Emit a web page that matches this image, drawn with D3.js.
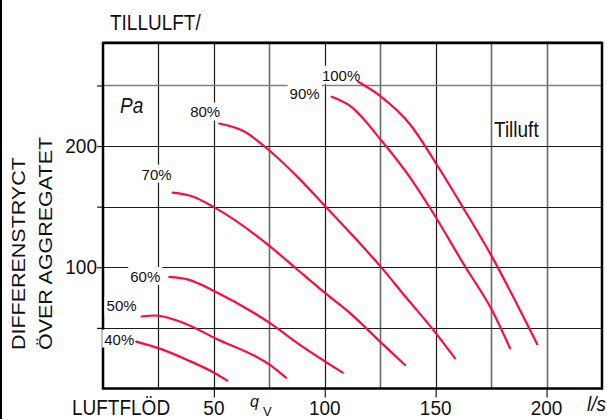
<!DOCTYPE html>
<html>
<head>
<meta charset="utf-8">
<script src="https://cdn.jsdelivr.net/npm/d3@7"></script>
<style>
  html, body { margin: 0; padding: 0; background: #fff; }
  svg { display: block; }
  text { font-family: "Liberation Sans", Arial, sans-serif; fill: #111; }
</style>
</head>
<body>
<svg id="chart"></svg>
<script>
// fan curves, flow in l/s vs pressure difference in Pa
const curveLabels = ['40%', '50%', '60%', '70%', '80%', '90%', '100%'];

const flow40 = [15, 25, 38, 50.5, 56];
const dp40 = [38.7, 33.3, 23.6, 12.6, 6.5];
const flow50 = [17.4, 23.4, 34.7, 50.5, 75.3, 82.5];
const dp50 = [59.4, 60.2, 55.3, 41.5, 19.4, 8.9];
const flow60 = [29.9, 38.5, 50.5, 75.3, 88.8, 108.1];
const dp60 = [92, 89.8, 80.1, 53.9, 36, 13.1];
const flow70 = [31.4, 40.7, 50, 75.3, 87.3, 100.1, 111.4, 124.9, 136.2];
const dp70 = [161.5, 158.2, 149.6, 117.3, 98.6, 78.8, 62.2, 38.7, 19.4];
const flow80 = [52.4, 63.3, 75.3, 88.8, 100.4, 112.9, 125.3, 136.9, 148.9, 158.7];
const dp80 = [218.6, 212.4, 195.9, 172.5, 149.9, 125.6, 100.3, 74.6, 48.4, 25];
const flow90 = [103.1, 111.4, 125.7, 136.9, 147.4, 163.2, 175.3, 183.5];
const dp90 = [240.6, 233.1, 204.2, 178, 149.1, 100.8, 64.9, 33.3];
const flow100 = [115.1, 124.9, 138.4, 150.4, 162.4, 175.3, 186, 195.8];
const dp100 = [253, 241.4, 218, 185, 149.1, 109, 72, 36.6];

const xGridValues = [25, 50, 75, 100, 125, 150, 175, 200];
const xTickLabels = [50, 100, 150, 200];
const yGridValues = [50, 100, 150, 200, 250];
const yTickLabels = [100, 200];

const width = 607;
const height = 419;

const flows = [flow40, flow50, flow60, flow70, flow80, flow90, flow100];
const dps = [dp40, dp50, dp60, dp70, dp80, dp90, dp100];

// label placement relative to first point of each curve (pixels)
const labelShift = [[-2, 3], [-5, -5], [-9, 5], [-1, -13], [1, -6], [-12, 2], [2, -1]];

const svg = d3.select('#chart')
  .attr('width', width)
  .attr('height', height);

svg.append('rect')
  .attr('width', width)
  .attr('height', height)
  .attr('fill', '#fff');

const x = d3.scaleLinear().domain([0, 225]).range([103, 602]);
const y = d3.scaleLinear().domain([0, 285]).range([388.5, 43]);

const x0 = x(0), x1 = x(225), yTop = y(285), yBot = y(0);

// grid
const darkX = new Set([25, 50, 100, 150]);
svg.append('g').selectAll('line')
  .data(xGridValues)
  .join('line')
  .attr('x1', d => Math.round(x(d)) + 0.5)
  .attr('x2', d => Math.round(x(d)) + 0.5)
  .attr('y1', yTop)
  .attr('y2', yBot)
  .attr('stroke', d => darkX.has(d) ? '#1a1a1a' : '#6a6a6a')
  .attr('stroke-width', d => darkX.has(d) ? 1.2 : 1.6);

const darkY = new Set([50, 100, 150, 200]);
svg.append('g').selectAll('line')
  .data(yGridValues)
  .join('line')
  .attr('x1', x0)
  .attr('x2', x1)
  .attr('y1', d => Math.round(y(d)) + 0.5)
  .attr('y2', d => Math.round(y(d)) + 0.5)
  .attr('stroke', d => darkY.has(d) ? '#1a1a1a' : '#808080')
  .attr('stroke-width', d => darkY.has(d) ? 1.2 : 1.6);

// ticks
const yAxis = svg.append('g')
  .attr('transform', `translate(${x0},0)`)
  .call(d3.axisLeft(y).tickValues(yGridValues).tickSize(6).tickFormat(''));
yAxis.select('.domain').remove();
yAxis.selectAll('line').attr('stroke', '#1a1a1a').attr('stroke-width', 1.2);

const xAxis = svg.append('g')
  .attr('transform', `translate(0,${yBot})`)
  .call(d3.axisBottom(x).tickValues(xTickLabels).tickSize(9).tickFormat(''));
xAxis.select('.domain').remove();
xAxis.selectAll('line').attr('stroke', '#1a1a1a').attr('stroke-width', 1.2);

// frame
svg.append('line')
  .attr('x1', x0).attr('x2', x1)
  .attr('y1', yTop - 1.5).attr('y2', yTop - 1.5)
  .attr('stroke', '#999').attr('stroke-width', 1);
svg.append('rect')
  .attr('x', x0)
  .attr('y', yTop)
  .attr('width', x1 - x0)
  .attr('height', yBot - yTop)
  .attr('fill', 'none')
  .attr('stroke', '#000')
  .attr('stroke-width', 2.5);

svg.append('line')
  .attr('x1', 1).attr('x2', 1)
  .attr('y1', 0).attr('y2', height)
  .attr('stroke', '#000').attr('stroke-width', 2);

// curves
const line = d3.line()
  .x(d => x(d[0]))
  .y(d => y(d[1]))
  .curve(d3.curveMonotoneX);

const labelLayer = svg.append('g');
const curveLayer = svg.append('g');

flows.forEach((fl, i) => {
  const pts = fl.map((q, j) => [q, dps[i][j]]);
  curveLayer.append('path')
    .attr('d', line(pts))
    .attr('fill', 'none')
    .attr('stroke', '#ff0a3c')
    .attr('stroke-width', 2.2)
    .attr('stroke-linecap', 'round');

  const g = labelLayer.append('g');
  const t = g.append('text')
    .attr('x', x(pts[0][0]) + labelShift[i][0])
    .attr('y', y(pts[0][1]) + labelShift[i][1])
    .attr('text-anchor', 'end')
    .attr('font-size', 15)
    .text(curveLabels[i]);
  const bb = t.node().getBBox();
  g.insert('rect', 'text')
    .attr('x', bb.x - 2)
    .attr('y', bb.y - 1)
    .attr('width', bb.width + 4)
    .attr('height', bb.height + 1)
    .attr('fill', '#fff');
});

// text helper, the scan is a bit stretched vertically
function label(txt, px, py, opts = {}) {
  const s = opts.stretch || 1.12;
  const rot = opts.rotate ? ' rotate(-90)' : '';
  return svg.append('text')
    .attr('transform', `translate(${px},${py}) scale(1,${s})${rot}`)
    .attr('font-size', opts.size || 19)
    .attr('font-style', opts.italic ? 'italic' : null)
    .attr('text-anchor', opts.anchor || 'start')
    .text(txt);
}

yTickLabels.forEach(v => label(v, 97, y(v) + 7, { anchor: 'end', stretch: 1.02 }));
xTickLabels.forEach(v => label(v, x(v), 415, { anchor: 'middle', stretch: 1.1 }));

label('TILLULFT/', 110, 30);
label('Pa', 120, 113, { italic: true });
label('Tilluft', 494, 137);
label('LUFTFLÖD', 72, 415);
label('q', 250, 407, { italic: true, size: 16, stretch: 1 });
label('V', 263, 416, { size: 13, stretch: 1 });
label('l/s', 587, 411, { italic: true, stretch: 1.02 });

label('DIFFERENSTRYCT', 25, 350, { rotate: true, stretch: 1.13 });
label('ÖVER AGGREGATET', 52, 350, { rotate: true, stretch: 1.13 });
</script>
</body>
</html>
